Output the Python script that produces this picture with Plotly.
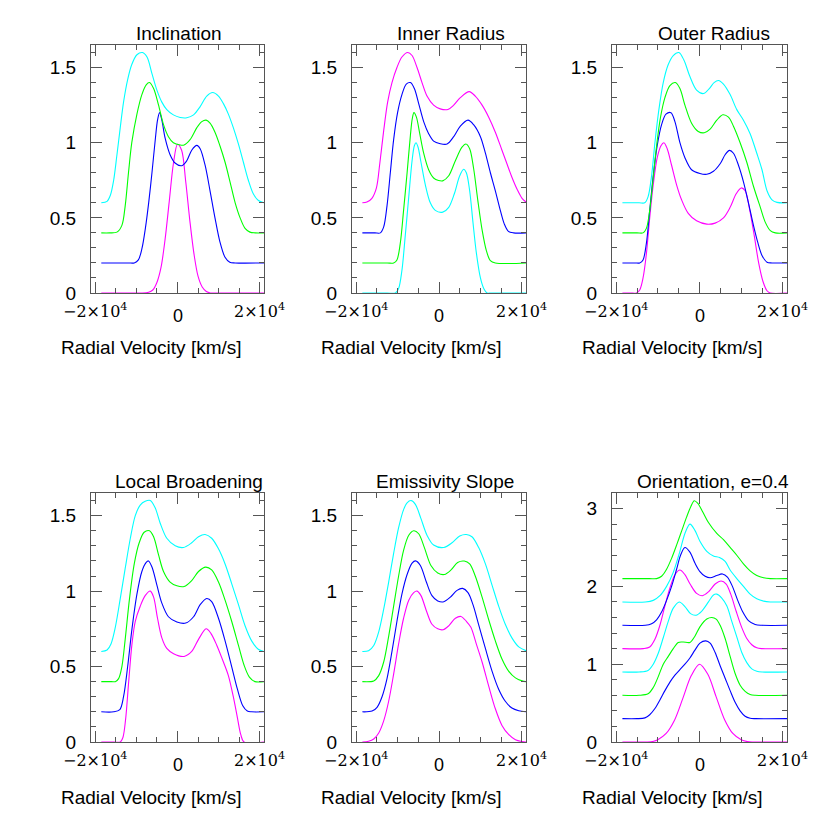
import plotly.graph_objects as go

MAG, BLU, GRN, CYN = "#ff00ff", "#0000ff", "#00ff00", "#00ffff"

# ---------------- Inclination ----------------
INC_MAG_V = [-18500, -9000, -7000, -6000, -5000, -4000, -3000, -2000, -1000, 0, 1000, 2000, 3000, 4000, 5000, 6000, 7000, 8000, 10000, 21000]
INC_MAG_Y = [0, 0, 0.005, 0.02, 0.07, 0.17, 0.36, 0.61, 0.86, 0.99, 0.95, 0.74, 0.48, 0.26, 0.11, 0.04, 0.01, 0, 0, 0]
INC_BLU_V = [-18500, -12000, -10500, -9500, -8600, -7800, -7000, -6200, -5400, -4850, -4350, -3800, -3000, -1800, -600, 1050, 2250, 3450, 4700, 5500, 6700, 7900, 9100, 10300, 11500, 12700, 14000, 21000]
INC_BLU_Y = [0.2, 0.2, 0.2, 0.22, 0.3, 0.43, 0.6, 0.8, 1.02, 1.15, 1.2, 1.15, 1.03, 0.92, 0.865, 0.847, 0.88, 0.95, 0.982, 0.96, 0.85, 0.68, 0.5, 0.34, 0.24, 0.205, 0.2, 0.2]
INC_GRN_V = [-18500, -16500, -14700, -13500, -12700, -11900, -11100, -9850, -8650, -7600, -6800, -5800, -4600, -3400, -2200, -1000, 650, 1600, 3050, 4700, 5900, 6950, 7900, 9100, 10300, 11550, 12750, 14000, 15200, 16400, 17600, 18800, 21000]
INC_GRN_Y = [0.4, 0.4, 0.405, 0.45, 0.58, 0.8, 1.0, 1.19, 1.32, 1.385, 1.4, 1.36, 1.25, 1.12, 1.04, 1.0, 0.985, 0.985, 1.02, 1.1, 1.14, 1.15, 1.13, 1.07, 0.98, 0.87, 0.74, 0.6, 0.5, 0.43, 0.405, 0.4, 0.4]
INC_CYN_V = [-18500, -17100, -16300, -15500, -14700, -13900, -13100, -12100, -11100, -9850, -8500, -7400, -6200, -5000, -3800, -2600, -1000, 650, 2250, 3900, 5500, 7100, 8550, 9950, 11150, 12350, 13550, 14800, 16000, 17200, 18400, 19650, 21000]
INC_CYN_Y = [0.6, 0.61, 0.65, 0.75, 0.92, 1.1, 1.27, 1.42, 1.52, 1.585, 1.6, 1.57, 1.46, 1.35, 1.27, 1.22, 1.185, 1.168, 1.166, 1.185, 1.24, 1.31, 1.334, 1.31, 1.26, 1.19, 1.1, 0.99, 0.87, 0.75, 0.66, 0.615, 0.6]

# ---------------- Inner Radius ----------------
IR_MAG_V = [-18500, -17400, -16200, -15100, -14300, -13350, -12400, -11350, -10150, -8950, -7550, -6500, -5300, -4100, -2900, -1300, 300, 2150, 3550, 5150, 7300, 8750, 10400, 12000, 13600, 15200, 16400, 17600, 18850, 20050, 21000]
IR_MAG_Y = [0.6, 0.605, 0.63, 0.7, 0.86, 1.08, 1.27, 1.4, 1.5, 1.57, 1.6, 1.58, 1.5, 1.4, 1.31, 1.25, 1.225, 1.221, 1.25, 1.3, 1.34, 1.31, 1.25, 1.17, 1.07, 0.95, 0.86, 0.77, 0.69, 0.63, 0.605]
IR_BLU_V = [-18500, -15500, -14150, -13350, -12550, -11750, -10950, -10000, -8950, -7900, -6900, -5950, -4900, -3700, -2500, -1300, 300, 1950, 3550, 5150, 7000, 8350, 10000, 11200, 12400, 13600, 14800, 15750, 16750, 18000, 21000]
IR_BLU_Y = [0.4, 0.4, 0.4, 0.44, 0.58, 0.8, 1.02, 1.2, 1.32, 1.39, 1.4, 1.36, 1.26, 1.14, 1.06, 1.01, 0.993, 0.991, 1.04, 1.11, 1.15, 1.12, 1.04, 0.93, 0.8, 0.68, 0.55, 0.46, 0.41, 0.4, 0.4]
IR_GRN_V = [-18500, -12500, -10950, -10150, -9350, -8550, -7700, -6900, -6450, -6050, -5450, -4650, -3700, -2500, -1300, -100, 900, 2350, 3950, 5550, 6500, 7400, 8350, 9350, 10400, 11450, 12400, 13600, 21000]
IR_GRN_Y = [0.2, 0.2, 0.2, 0.22, 0.33, 0.55, 0.8, 1.05, 1.16, 1.2, 1.17, 1.06, 0.93, 0.82, 0.765, 0.748, 0.746, 0.78, 0.88, 0.97, 0.991, 0.96, 0.83, 0.62, 0.42, 0.28, 0.215, 0.2, 0.2]
IR_CYN_V = [-18500, -12500, -10550, -9750, -8950, -8150, -7300, -6500, -5950, -5550, -5050, -4350, -3300, -2100, -900, 900, 2350, 3700, 5000, 5950, 6600, 7400, 8200, 9000, 10000, 10800, 11600, 12500, 21000]
IR_CYN_Y = [0, 0, 0, 0.03, 0.15, 0.38, 0.64, 0.88, 0.98, 1.0, 0.97, 0.87, 0.72, 0.6, 0.55, 0.538, 0.57, 0.66, 0.78, 0.823, 0.8, 0.68, 0.47, 0.27, 0.1, 0.03, 0, 0, 0]

# ---------------- Outer Radius ----------------
OR_MAG_V = [-18500, -16500, -15150, -14350, -13550, -12750, -11950, -11100, -10150, -9250, -8550, -7750, -6700, -5500, -4300, -2700, -700, 1750, 3750, 5750, 7350, 8800, 10000, 10950, 12000, 13150, 14200, 15200, 16200, 17000, 21000]
OR_MAG_Y = [0, 0, 0, 0.02, 0.1, 0.26, 0.5, 0.72, 0.9, 0.98, 1.0, 0.96, 0.85, 0.72, 0.62, 0.53, 0.48, 0.458, 0.465, 0.5, 0.57, 0.66, 0.699, 0.68, 0.56, 0.38, 0.2, 0.08, 0.015, 0, 0]
OR_BLU_V = [-18500, -15500, -14350, -13550, -12750, -11950, -11100, -10150, -9100, -8050, -6850, -5900, -4700, -3500, -1900, 100, 1750, 3350, 4950, 6150, 7200, 8150, 9350, 10550, 11750, 12950, 13950, 15000, 16200, 17400, 21000]
OR_BLU_Y = [0.2, 0.2, 0.2, 0.22, 0.33, 0.55, 0.78, 0.98, 1.12, 1.19, 1.2, 1.14, 1.0, 0.9, 0.82, 0.795, 0.79, 0.81, 0.86, 0.92, 0.949, 0.93, 0.85, 0.74, 0.6, 0.45, 0.34, 0.25, 0.205, 0.2, 0.2]
OR_GRN_V = [-18500, -15000, -13550, -12750, -11950, -11100, -10300, -9350, -8300, -7100, -5800, -4700, -3500, -1900, -300, 1150, 2550, 4150, 5600, 6950, 8150, 9750, 11350, 12950, 14600, 15800, 17000, 18200, 21000]
OR_GRN_Y = [0.4, 0.4, 0.4, 0.43, 0.55, 0.77, 0.98, 1.17, 1.3, 1.38, 1.4, 1.36, 1.25, 1.13, 1.075, 1.066, 1.09, 1.15, 1.186, 1.17, 1.11, 1.0, 0.87, 0.71, 0.57, 0.47, 0.415, 0.4, 0.4]
OR_CYN_V = [-18500, -14500, -13150, -12350, -11500, -10700, -9750, -8700, -7500, -6300, -4950, -3750, -2300, -700, 950, 2350, 3500, 4550, 5750, 7350, 8950, 10550, 12150, 13750, 15000, 16200, 17400, 18600, 21000]
OR_CYN_Y = [0.6, 0.6, 0.6, 0.64, 0.78, 1.0, 1.22, 1.4, 1.52, 1.58, 1.6, 1.55, 1.44, 1.35, 1.327, 1.36, 1.4, 1.414, 1.39, 1.32, 1.22, 1.15, 1.06, 0.93, 0.82, 0.68, 0.62, 0.603, 0.6]

# ---------------- Local Broadening ----------------
LB_MAG_V = [-18500, -15500, -13900, -13250, -12600, -11850, -11050, -10250, -9050, -7850, -6600, -5800, -4850, -3800, -2600, -950, 1600, 3450, 5100, 6950, 8100, 9550, 11150, 12350, 13550, 14550, 15350, 16150, 21000]
LB_MAG_Y = [0, 0, 0, 0.03, 0.15, 0.4, 0.65, 0.8, 0.9, 0.97, 1.0, 0.96, 0.82, 0.69, 0.62, 0.585, 0.567, 0.6, 0.68, 0.75, 0.72, 0.64, 0.53, 0.44, 0.3, 0.16, 0.05, 0, 0]
LB_BLU_V = [-18500, -15500, -14000, -13100, -12100, -11050, -9850, -8650, -7600, -7050, -6200, -5000, -3800, -2200, -150, 2000, 3900, 5500, 7100, 8300, 9950, 11550, 13150, 14550, 15850, 16950, 18000, 21000]
LB_BLU_Y = [0.2, 0.2, 0.215, 0.3, 0.5, 0.75, 0.98, 1.13, 1.19, 1.2, 1.16, 1.04, 0.92, 0.83, 0.795, 0.788, 0.83, 0.91, 0.951, 0.93, 0.82, 0.67, 0.5, 0.35, 0.24, 0.205, 0.2, 0.2]
LB_GRN_V = [-18500, -16000, -15100, -14300, -13500, -12700, -11650, -10500, -9300, -8100, -6800, -5800, -4600, -3400, -1800, -150, 1600, 3450, 5100, 6850, 8300, 9950, 11550, 13150, 14800, 16150, 17450, 18800, 21000]
LB_GRN_Y = [0.4, 0.4, 0.4, 0.42, 0.5, 0.68, 0.95, 1.18, 1.32, 1.39, 1.4, 1.36, 1.24, 1.13, 1.06, 1.035, 1.03, 1.07, 1.13, 1.159, 1.14, 1.06, 0.94, 0.8, 0.64, 0.51, 0.43, 0.4, 0.4]
LB_CYN_V = [-18500, -17100, -16150, -15100, -13900, -12700, -11450, -10250, -9050, -7850, -6600, -5400, -4200, -2600, -550, 1450, 3450, 5100, 6700, 8300, 9950, 11550, 13150, 14800, 16400, 18000, 19600, 21000]
LB_CYN_Y = [0.6, 0.61, 0.65, 0.76, 0.95, 1.15, 1.35, 1.5, 1.57, 1.595, 1.6, 1.55, 1.45, 1.35, 1.3, 1.289, 1.32, 1.36, 1.375, 1.35, 1.28, 1.18, 1.05, 0.91, 0.77, 0.67, 0.615, 0.6]

# ---------------- Emissivity Slope ----------------
ES_MAG_V = [-18500, -17000, -15750, -14550, -13350, -12150, -10950, -9750, -8550, -7300, -6100, -5300, -4350, -3050, -1700, -300, 1000, 2350, 3950, 5300, 6600, 7700, 9000, 10400, 12000, 13600, 15200, 16800, 18450, 20050, 21000]
ES_MAG_Y = [0, 0.005, 0.02, 0.06, 0.14, 0.27, 0.45, 0.65, 0.82, 0.94, 0.99, 1.0, 0.97, 0.87, 0.78, 0.75, 0.744, 0.77, 0.82, 0.832, 0.8, 0.76, 0.65, 0.53, 0.37, 0.22, 0.11, 0.05, 0.015, 0.003, 0]
ES_BLU_V = [-18500, -16150, -14950, -13750, -12550, -11350, -10150, -8950, -7700, -6500, -5650, -4500, -3050, -1700, -300, 1150, 2750, 4350, 5700, 7000, 8200, 9550, 11200, 12800, 14400, 16000, 17600, 19250, 21000]
ES_BLU_Y = [0.2, 0.205, 0.23, 0.3, 0.42, 0.6, 0.8, 0.98, 1.11, 1.185, 1.2, 1.17, 1.06, 0.97, 0.935, 0.929, 0.96, 1.005, 1.018, 0.99, 0.91, 0.78, 0.62, 0.47, 0.35, 0.27, 0.225, 0.207, 0.2]
ES_GRN_V = [-18500, -15750, -14550, -13350, -12150, -10950, -9750, -8550, -7300, -6100, -4900, -3550, -1950, -300, 1300, 2900, 4500, 6100, 7400, 8750, 10400, 12000, 13600, 15200, 16800, 18450, 20050, 21000]
ES_GRN_Y = [0.4, 0.405, 0.44, 0.53, 0.7, 0.9, 1.1, 1.27, 1.37, 1.4, 1.38, 1.29, 1.17, 1.12, 1.11, 1.14, 1.19, 1.199, 1.18, 1.1, 0.96, 0.81, 0.67, 0.55, 0.47, 0.425, 0.405, 0.4]
ES_CYN_V = [-18500, -17000, -15750, -14550, -13350, -12150, -10950, -9750, -8550, -7700, -6750, -5700, -4350, -2900, -1300, 1150, 3150, 5000, 6600, 7950, 9550, 11200, 12800, 14400, 16000, 17600, 19250, 21000]
ES_CYN_Y = [0.6, 0.605, 0.64, 0.73, 0.88, 1.06, 1.25, 1.42, 1.54, 1.585, 1.6, 1.575, 1.48, 1.37, 1.305, 1.289, 1.32, 1.365, 1.375, 1.36, 1.29, 1.18, 1.04, 0.9, 0.78, 0.69, 0.63, 0.605]

# ---------------- Orientation, e=0.4 ----------------
ORI0_V = [-18500, -12500, -11000, -10000, -8000, -6000, -4000, -2000, 0, 2000, 4000, 6000, 8000, 10000, 11500, 13000, 21000]
ORI0_Y = [0, 0, 0.01, 0.03, 0.11, 0.28, 0.56, 0.85, 1.0, 0.87, 0.58, 0.29, 0.11, 0.03, 0.005, 0, 0]
ORI1_V = [-18500, -15000, -13100, -11950, -10700, -9500, -8300, -7100, -5900, -4700, -3500, -2300, -1100, 100, 1500, 2550, 3750, 4950, 6150, 7350, 8550, 9750, 10950, 12150, 13400, 21000]
ORI1_Y = [0.3, 0.3, 0.31, 0.35, 0.43, 0.54, 0.66, 0.77, 0.86, 0.93, 1.0, 1.08, 1.18, 1.27, 1.3, 1.27, 1.15, 0.98, 0.82, 0.66, 0.51, 0.4, 0.33, 0.305, 0.3, 0.3]
ORI2_V = [-18500, -14500, -12350, -11100, -9900, -8700, -7500, -6300, -5100, -3900, -2300, -1100, 100, 1750, 2950, 4000, 4950, 6150, 7350, 8550, 9750, 10950, 12150, 13400, 21000]
ORI2_Y = [0.6, 0.6, 0.62, 0.7, 0.84, 1.0, 1.1, 1.2, 1.28, 1.285, 1.28, 1.36, 1.48, 1.58, 1.6, 1.58, 1.5, 1.33, 1.1, 0.88, 0.73, 0.65, 0.61, 0.6, 0.6]
ORI3_V = [-18500, -14500, -12350, -11100, -9900, -8700, -7500, -6300, -4850, -3500, -2150, -850, 500, 2150, 3350, 4150, 5350, 6550, 7750, 8950, 10150, 11350, 12550, 13750, 15000, 21000]
ORI3_Y = [0.9, 0.9, 0.92, 1.0, 1.14, 1.34, 1.55, 1.72, 1.8, 1.74, 1.65, 1.63, 1.68, 1.8, 1.89, 1.9, 1.85, 1.75, 1.55, 1.35, 1.15, 1.02, 0.94, 0.91, 0.9, 0.9]
ORI4_V = [-18500, -13500, -11950, -10700, -9500, -8300, -7100, -5900, -4700, -3500, -2150, -700, 700, 2150, 3750, 5200, 6400, 7500, 8800, 10150, 11350, 12550, 13750, 15000, 21000]
ORI4_Y = [1.2, 1.2, 1.22, 1.32, 1.5, 1.75, 1.98, 2.15, 2.21, 2.15, 2.02, 1.91, 1.88, 1.93, 2.03, 2.07, 2.03, 1.9, 1.68, 1.47, 1.33, 1.25, 1.21, 1.2, 1.2]
ORI5_V = [-18500, -13000, -11500, -10300, -9100, -7900, -6700, -5500, -4550, -3500, -2300, -1100, 100, 1350, 2550, 4150, 5500, 6700, 7900, 9100, 10400, 11750, 13350, 15000, 21000]
ORI5_Y = [1.5, 1.5, 1.52, 1.57, 1.67, 1.82, 2.0, 2.22, 2.4, 2.5, 2.44, 2.3, 2.19, 2.13, 2.11, 2.14, 2.16, 2.12, 2.0, 1.83, 1.67, 1.56, 1.51, 1.5, 1.5]
ORI6_V = [-18500, -13000, -11100, -9500, -7900, -6300, -4700, -3500, -2300, -1100, 100, 1750, 3350, 4800, 6150, 7350, 8950, 10550, 12150, 13750, 15400, 17000, 21000]
ORI6_Y = [1.8, 1.8, 1.82, 1.88, 2.0, 2.18, 2.45, 2.68, 2.8, 2.72, 2.58, 2.45, 2.39, 2.37, 2.32, 2.21, 2.1, 2.0, 1.9, 1.84, 1.81, 1.8, 1.8]
ORI7_V = [-18500, -12000, -10300, -9100, -7900, -6700, -5500, -4300, -3100, -2050, -1250, -450, 750, 2150, 4150, 5750, 7350, 8950, 10550, 12150, 13750, 15400, 17000, 21000]
ORI7_Y = [2.1, 2.1, 2.1, 2.13, 2.22, 2.36, 2.53, 2.71, 2.89, 3.03, 3.1, 3.07, 2.96, 2.82, 2.68, 2.6, 2.5, 2.4, 2.29, 2.2, 2.14, 2.11, 2.1, 2.1]

PANEL_TITLES = ["Inclination", "Inner Radius", "Outer Radius", "Local Broadening", "Emissivity Slope", "Orientation, e=0.4"]
X_TICK_VALS = [-20000, 0, 20000]
X_TICK_TEXT = ["\u22122\u00d710<sup>4</sup>", "0", "2\u00d710<sup>4</sup>"]
X_LABEL = "Radial Velocity [km/s]"

panels = [
    [(INC_MAG_V, INC_MAG_Y, MAG), (INC_BLU_V, INC_BLU_Y, BLU), (INC_GRN_V, INC_GRN_Y, GRN), (INC_CYN_V, INC_CYN_Y, CYN)],
    [(IR_MAG_V, IR_MAG_Y, MAG), (IR_BLU_V, IR_BLU_Y, BLU), (IR_GRN_V, IR_GRN_Y, GRN), (IR_CYN_V, IR_CYN_Y, CYN)],
    [(OR_MAG_V, OR_MAG_Y, MAG), (OR_BLU_V, OR_BLU_Y, BLU), (OR_GRN_V, OR_GRN_Y, GRN), (OR_CYN_V, OR_CYN_Y, CYN)],
    [(LB_MAG_V, LB_MAG_Y, MAG), (LB_BLU_V, LB_BLU_Y, BLU), (LB_GRN_V, LB_GRN_Y, GRN), (LB_CYN_V, LB_CYN_Y, CYN)],
    [(ES_MAG_V, ES_MAG_Y, MAG), (ES_BLU_V, ES_BLU_Y, BLU), (ES_GRN_V, ES_GRN_Y, GRN), (ES_CYN_V, ES_CYN_Y, CYN)],
    [(ORI0_V, ORI0_Y, MAG), (ORI1_V, ORI1_Y, BLU), (ORI2_V, ORI2_Y, GRN), (ORI3_V, ORI3_Y, CYN),
     (ORI4_V, ORI4_Y, MAG), (ORI5_V, ORI5_Y, BLU), (ORI6_V, ORI6_Y, CYN), (ORI7_V, ORI7_Y, GRN)],
]

# page layout (in window pixels); the page body has an 8 px margin
OFF = 8
W = H = 830 - OFF
COLS = [(91, 264), (352, 526), (612, 787)]
ROWS = [(45, 293), (493, 742)]
TITLE_X = [179, 451, 714, 189, 445, 713]
TITLE_Y = [33, 482]
XLAB_X = [151, 411, 672]
XLAB_Y = [348, 797]
XTICK_Y = [310, 759]   # centre of exponent labels
XTICK0_Y = [316, 765]  # centre of the "0" label


def px(x):
    return (x - OFF) / W


def py(y):
    return 1 - (y - OFF) / H


fig = go.Figure()
AX = "#555555"
for i, curves in enumerate(panels):
    r, c = divmod(i, 3)
    n = i + 1
    xa = "x" if n == 1 else f"x{n}"
    ya = "y" if n == 1 else f"y{n}"
    for v, y, col in curves:
        fig.add_trace(go.Scatter(x=v, y=y, mode="lines", xaxis=xa, yaxis=ya,
                                 line=dict(color=col, width=1.1, shape="spline", smoothing=0.9),
                                 showlegend=False, hoverinfo="skip"))
    x0, x1 = COLS[c]
    y0, y1 = ROWS[r]
    is_ori = (i == 5)
    fig.layout[f"xaxis{'' if n == 1 else n}"] = dict(
        domain=[px(x0), px(x1)], anchor=ya, range=[-21000, 21000], automargin=False,
        tickmode="array", tickvals=X_TICK_VALS, showticklabels=False,
        ticks="inside", ticklen=11, tickcolor=AX, tickwidth=1,
        minor=dict(dtick=5000, tick0=0, ticks="inside", ticklen=5, tickcolor=AX, tickwidth=1),
        showline=True, linecolor=AX, linewidth=1, mirror="allticks",
        showgrid=False, zeroline=False,
    )
    fig.layout[f"yaxis{'' if n == 1 else n}"] = dict(
        domain=[py(y1), py(y0)], anchor=xa, automargin=False,
        range=[0, 3.2] if is_ori else [0, 1.65],
        tick0=0, dtick=1 if is_ori else 0.5,
        ticks="inside", ticklen=11, tickcolor=AX, tickwidth=1,
        minor=dict(dtick=0.2 if is_ori else 0.1, ticks="inside", ticklen=5, tickcolor=AX, tickwidth=1),
        showline=True, linecolor=AX, linewidth=1, mirror="allticks",
        showgrid=False, zeroline=False,
        tickfont=dict(family="Liberation Sans", size=19, color="black"),
        ticklabelstandoff=10,
    )
    # x tick labels placed at the axis' own tick values
    for tv, tt in zip(X_TICK_VALS, X_TICK_TEXT):
        if tt == "0":
            fig.add_annotation(text=tt, x=tv, xref=xa, y=py(XTICK0_Y[r]), yref="paper",
                               showarrow=False, xanchor="center", yanchor="middle",
                               font=dict(family="Liberation Sans", size=18, color="black"))
        else:
            fig.add_annotation(text=tt, x=tv, xref=xa, y=py(XTICK_Y[r]), yref="paper",
                               showarrow=False, xanchor="center", yanchor="middle",
                               font=dict(family="DejaVu Serif", size=16, color="black"))
    fig.add_annotation(text=PANEL_TITLES[i], x=px(TITLE_X[i]), y=py(TITLE_Y[r]),
                       xref="paper", yref="paper", showarrow=False, xanchor="center", yanchor="middle",
                       font=dict(family="Liberation Sans", size=19, color="black"))
    fig.add_annotation(text=X_LABEL, x=px(XLAB_X[c]), y=py(XLAB_Y[r]),
                       xref="paper", yref="paper", showarrow=False, xanchor="center", yanchor="middle",
                       font=dict(family="Liberation Sans", size=19, color="black"))

fig.update_layout(width=W, height=H, margin=dict(l=0, r=0, t=0, b=0, autoexpand=False),
                  paper_bgcolor="white", plot_bgcolor="white", showlegend=False)
fig.write_html("out.html")
